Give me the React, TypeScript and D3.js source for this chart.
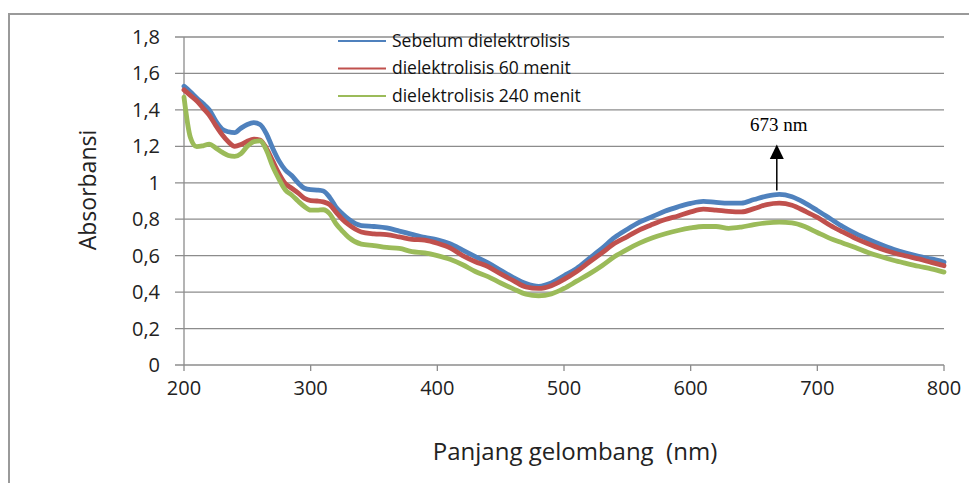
import React from 'react';
import * as d3 from 'd3';

// wavelength grid (nm)
const wavelengths = [
  200, 205, 210, 215, 220, 225, 230, 235, 240, 245, 250, 255, 260, 265, 270, 275, 280, 285, 290, 295,
  300, 305, 310, 315, 320, 325, 330, 340, 350, 360, 370, 380, 390, 400, 410, 420, 430, 440, 450, 460,
  470, 480, 490, 500, 510, 520, 530, 540, 550, 560, 570, 580, 590, 600, 610, 620, 630, 640, 650, 660,
  670, 680, 690, 700, 710, 720, 730, 740, 750, 760, 770, 780, 790, 800,
];

const sebelum = [
  1.53, 1.5, 1.465, 1.435, 1.4, 1.34, 1.295, 1.28, 1.275, 1.3, 1.32, 1.33, 1.32, 1.27, 1.19, 1.12, 1.07, 1.04, 1.0, 0.97,
  0.962, 0.96, 0.955, 0.92, 0.866, 0.83, 0.8, 0.765, 0.76, 0.752, 0.735, 0.717, 0.7, 0.687, 0.665, 0.63, 0.595, 0.56, 0.52, 0.48,
  0.447, 0.432, 0.45, 0.49, 0.53, 0.585, 0.64, 0.7, 0.745, 0.785, 0.815, 0.845, 0.868, 0.887, 0.898, 0.892, 0.888, 0.888, 0.908, 0.927,
  0.936, 0.923, 0.89, 0.848, 0.804, 0.76, 0.722, 0.69, 0.661, 0.635, 0.614, 0.596, 0.582, 0.565,
];

const menit60 = [
  1.51, 1.48, 1.45, 1.41, 1.37, 1.315, 1.265, 1.225, 1.2, 1.21, 1.228, 1.24, 1.235, 1.19, 1.12, 1.05, 0.995, 0.97, 0.945, 0.915,
  0.902, 0.9, 0.895, 0.88, 0.839, 0.8, 0.77, 0.73, 0.72, 0.715, 0.703, 0.69, 0.685, 0.668, 0.643, 0.6, 0.567, 0.54, 0.5, 0.463,
  0.428, 0.42, 0.435, 0.47, 0.513, 0.565, 0.615, 0.668, 0.705, 0.743, 0.772, 0.798, 0.818, 0.84, 0.855, 0.85, 0.843, 0.84, 0.858, 0.88,
  0.888, 0.877, 0.845, 0.81, 0.767, 0.73, 0.695, 0.665, 0.638, 0.616, 0.598, 0.582, 0.563, 0.545,
];

const menit240 = [
  1.47, 1.25, 1.198, 1.203, 1.212, 1.191, 1.168, 1.15, 1.145, 1.16, 1.2, 1.225, 1.23, 1.18, 1.09, 1.02, 0.96, 0.933, 0.9, 0.87,
  0.85, 0.85, 0.852, 0.83, 0.775, 0.735, 0.7, 0.663, 0.655, 0.645, 0.64, 0.622, 0.615, 0.6, 0.58, 0.55, 0.513, 0.485, 0.45, 0.418,
  0.389, 0.38, 0.39, 0.42, 0.46, 0.5, 0.545, 0.595, 0.635, 0.67, 0.698, 0.72, 0.738, 0.752, 0.76, 0.76, 0.75, 0.757, 0.77, 0.78,
  0.784, 0.78, 0.76, 0.727, 0.695, 0.67, 0.645, 0.618, 0.595, 0.575, 0.558, 0.542, 0.528, 0.51,
];

const seriesNames = ['Sebelum dielektrolisis', 'dielektrolisis 60 menit', 'dielektrolisis 240 menit'];
const seriesColors = ['#4F81BD', '#C0504D', '#9BBB59'];
const seriesValues = [sebelum, menit60, menit240];

const xTicks = [200, 300, 400, 500, 600, 700, 800];
const yTicks = [0, 0.2, 0.4, 0.6, 0.8, 1, 1.2, 1.4, 1.6, 1.8];

const peakWavelength = 668;
const peakLabel = '673 nm';

const W = 969;
const H = 483;
const plot = { left: 184, right: 944, top: 37, bottom: 365 };
const FONT = '"Open Sans", "Noto Sans", sans-serif';

export default function App() {
  const x = d3.scaleLinear().domain([200, 800]).range([plot.left, plot.right]);
  const y = d3.scaleLinear().domain([0, 1.8]).range([plot.bottom, plot.top]);

  const line = d3
    .line<number>()
    .x((_, i) => x(wavelengths[i]))
    .y((d) => y(d))
    .curve(d3.curveMonotoneX);

  const fmt = (v: number) => String(+v.toFixed(1)).replace('.', ',');

  const arrowX = x(peakWavelength);

  return (
    <svg
      width={W}
      height={H}
      style={{ position: 'absolute', left: 0, top: 0, background: '#fff' }}
    >
      {/* outer frame */}
      <path d={`M9,${H} L9,14 L${W},14`} fill="none" stroke="#9a9a9a" strokeWidth={2} />

      {/* gridlines */}
      {yTicks.map((t) => (
        <line key={'g' + t} x1={plot.left - 9} x2={plot.right} y1={y(t)} y2={y(t)} stroke="#8c8c8c" strokeWidth={1.3} />
      ))}
      {/* axes */}
      <line x1={plot.left} x2={plot.left} y1={plot.top} y2={plot.bottom} stroke="#8c8c8c" strokeWidth={1.3} />
      {xTicks.map((t) => (
        <line key={'xt' + t} x1={x(t)} x2={x(t)} y1={plot.bottom} y2={plot.bottom + 6} stroke="#8c8c8c" strokeWidth={1.3} />
      ))}

      {/* tick labels */}
      {yTicks.map((t) => (
        <text key={'yl' + t} x={160} y={y(t) + 7} textAnchor="end" fontFamily={FONT} fontSize={20} fill="#222">
          {fmt(t)}
        </text>
      ))}
      {xTicks.map((t) => (
        <text key={'xl' + t} x={x(t)} y={395} textAnchor="middle" fontFamily={FONT} fontSize={20} fill="#222">
          {t}
        </text>
      ))}

      {/* axis titles */}
      <text x={575} y={460} textAnchor="middle" fontFamily={FONT} fontSize={24} fill="#222" style={{ whiteSpace: 'pre' }}>
        {'Panjang gelombang  (nm)'}
      </text>
      <text
        transform={`translate(96,190) rotate(-90)`}
        textAnchor="middle"
        fontFamily={FONT}
        fontSize={23}
        fill="#222"
      >
        Absorbansi
      </text>

      {/* series */}
      {seriesValues.map((vals, i) => (
        <path
          key={'s' + i}
          d={line(vals) || ''}
          fill="none"
          stroke={seriesColors[i]}
          strokeWidth={4.8}
          strokeLinejoin="round"
          strokeLinecap="round"
        />
      ))}

      {/* legend */}
      {seriesNames.map((name, i) => (
        <g key={'lg' + i} transform={`translate(338,${41 + i * 27.5})`}>
          <line x1={0} x2={48} y1={0} y2={0} stroke={seriesColors[i]} strokeWidth={2} />
          <text x={54} y={5.5} fontFamily={FONT} fontSize={17.5} fill="#111">
            {name}
          </text>
        </g>
      ))}

      {/* annotation */}
      <line x1={arrowX} x2={arrowX} y1={y(0.958)} y2={y(1.13)} stroke="#000" strokeWidth={1.5} />
      <path
        d={`M${arrowX},${y(1.21)} L${arrowX - 7},${y(1.13)} L${arrowX + 7},${y(1.13)} Z`}
        fill="#000"
      />
      <text x={arrowX + 2} y={y(1.285)} textAnchor="middle" fontFamily='"Liberation Serif", "Times New Roman", serif' fontSize={19} fill="#000">
        {peakLabel}
      </text>
    </svg>
  );
}
